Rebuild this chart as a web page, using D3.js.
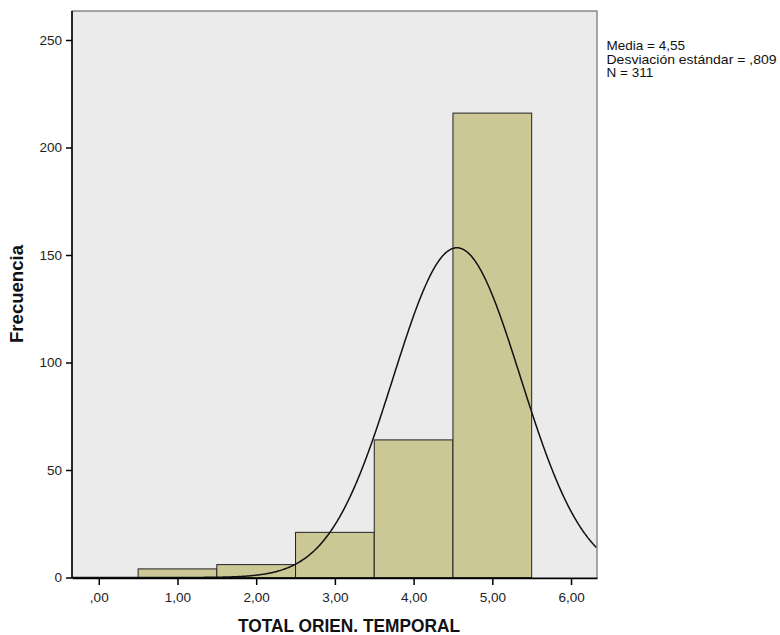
<!DOCTYPE html>
<html><head><meta charset="utf-8">
<script src="https://cdn.jsdelivr.net/npm/d3@7"></script>
<style>body{margin:0;background:#fff;font-family:"Liberation Sans",Arial,sans-serif;}</style>
</head><body>
<svg id="c" width="780" height="635"></svg>
<script>
const binStarts = [-0.5, 0.5, 1.5, 2.5, 3.5, 4.5];
const binWidth = 1;
const counts = [0, 4, 6, 21, 64, 216];
const xTicks = [0, 1, 2, 3, 4, 5, 6];
const yTicks = [0, 50, 100, 150, 200, 250];
const mean = 4.55, sd = 0.809, n = 311;
const statsLines = ["Media = 4,55", "Desviación estándar = ,809", "N = 311"];

const svg = d3.select("#c");
const L = 72, R = 597, T = 11, B = 578;
const x = d3.scaleLinear().domain([-0.34, 6.33]).range([L, R]);
const y = d3.scaleLinear().domain([0, 250]).range([577.5, 40]);
const bins = binStarts.map((s, i) => ({x0: s, x1: s + binWidth, c: counts[i]}));

svg.append("rect").attr("x", L).attr("y", T).attr("width", R - L).attr("height", B - T)
  .attr("fill", "#ebebeb").attr("stroke", "#555").attr("stroke-width", 1);

svg.selectAll("rect.bar").data(bins.filter(b => b.c > 0)).enter().append("rect").attr("class", "bar")
  .attr("x", d => x(d.x0))
  .attr("y", d => y(d.c))
  .attr("width", d => x(d.x1) - x(d.x0))
  .attr("height", d => y(0) - y(d.c))
  .attr("fill", "#cbc896").attr("stroke", "#222").attr("stroke-width", 1);

const pts = d3.range(-0.34, 6.33, 0.01).map(v => [v, n * binWidth * Math.exp(-0.5 * ((v - mean) / sd) ** 2) / (sd * Math.sqrt(2 * Math.PI))]);
svg.append("path").datum(pts)
  .attr("d", d3.line().x(d => x(d[0])).y(d => y(d[1])))
  .attr("fill", "none").attr("stroke", "#111").attr("stroke-width", 1.5);

const fmt = v => v === 0 ? ",00" : d3.format(".2f")(v).replace(".", ",");
const xa = svg.append("g").attr("transform", `translate(0,${B})`)
  .call(d3.axisBottom(x).tickValues(xTicks).tickFormat(fmt).tickSize(7).tickSizeOuter(0));
xa.select(".domain").attr("stroke", "#000").attr("stroke-width", 1.5);
xa.selectAll("text").attr("font-size", 13.5).attr("fill", "#222").attr("font-family", "Liberation Sans, Arial, sans-serif").attr("y", 23.5).attr("dy", 0);
xa.selectAll(".tick line").attr("stroke-width", 1.5);

const ya = svg.append("g").attr("transform", `translate(${L},0)`)
  .call(d3.axisLeft(y).tickValues(yTicks).tickSize(6).tickSizeOuter(0));
ya.select(".domain").attr("stroke", "#000").attr("stroke-width", 1.5).attr("d", `M0,${T}V${B}`);
ya.selectAll("text").attr("font-size", 13.5).attr("fill", "#222").attr("font-family", "Liberation Sans, Arial, sans-serif").attr("x", -10);
ya.selectAll(".tick line").attr("stroke-width", 1.5);

svg.append("text").attr("x", 349).attr("y", 632).attr("text-anchor", "middle")
  .attr("font-size", 18).attr("font-weight", "bold").attr("fill", "#111")
  .attr("textLength", 222).attr("lengthAdjust", "spacingAndGlyphs").text("TOTAL ORIEN. TEMPORAL");
svg.append("text").attr("transform", "translate(23,294) rotate(-90)").attr("text-anchor", "middle")
  .attr("font-size", 18).attr("font-weight", "bold").attr("fill", "#111")
  .attr("textLength", 98).attr("lengthAdjust", "spacingAndGlyphs").text("Frecuencia");

const stats = svg.append("g").selectAll("text").data(statsLines).enter().append("text")
  .attr("font-size", 13.5).attr("fill", "#111")
  .attr("x", 606.5).attr("y", (d, i) => 50 + i * 13.5)
  .text(d => d);
stats.filter((d, i) => i === 1).attr("textLength", 170).attr("lengthAdjust", "spacingAndGlyphs");
</script>
</body></html>
